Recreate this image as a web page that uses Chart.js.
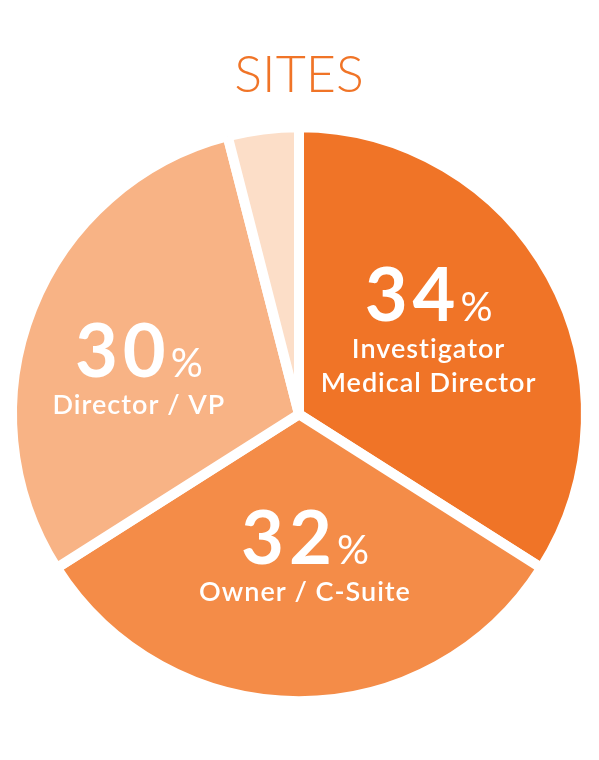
<!DOCTYPE html>
<html>
<head>
<meta charset="utf-8">
<script src="https://cdn.jsdelivr.net/npm/chart.js@4"></script>
<style>
  html, body { margin: 0; padding: 0; background: #fff; }
  #wrap { width: 599px; height: 760px; }
</style>
</head>
<body>
<div id="wrap"><canvas id="chart"></canvas></div>
<script>
// data
const chartTitle = 'SITES';
const categories = [['Investigator', 'Medical Director'], ['Owner / C-Suite'], ['Director / VP'], ['']];
const shares = [34, 32, 30, 4];
const sliceColors = ['#F07427', '#F48C48', '#F8B385', '#FCDEC8'];

// writes "34%" plus the role lines inside each big slice
const sliceLabels = {
    id: 'sliceLabels',
    afterDatasetsDraw(chart, args, opts) {
        const ctx = chart.ctx;
        const meta = chart.getDatasetMeta(0);
        meta.data.forEach(function (arc, i) {
            if (shares[i] < 10) return;
            const p = arc.getProps(['x', 'y', 'startAngle', 'endAngle', 'outerRadius'], true);
            const mid = (p.startAngle + p.endAngle) / 2;
            const r = p.outerRadius * opts.radial;
            const nudge = opts.nudge[i] || [0, 0];
            // ax = centre of the text, y0 = baseline of the big number
            const ax = p.x + Math.cos(mid) * r + nudge[0];
            const y0 = p.y + Math.sin(mid) * r + nudge[1];
            const lines = categories[i];

            ctx.save();
            ctx.fillStyle = '#fff';
            ctx.textBaseline = 'alphabetic';
            ctx.textAlign = 'left';
            const numFont = 'bold 74px Lato';
            const pctFont = '400 40px Lato';
            ctx.font = numFont;
            ctx.letterSpacing = '5px';
            const wNum = ctx.measureText(String(shares[i])).width;
            ctx.letterSpacing = '0px';
            ctx.font = pctFont;
            const wPct = ctx.measureText('%').width;
            const x = ax - (wNum + wPct) / 2;
            ctx.font = numFont;
            ctx.letterSpacing = '5px';
            ctx.fillText(String(shares[i]), x, y0);
            ctx.letterSpacing = '0px';
            ctx.font = pctFont;
            ctx.fillText('%', x + wNum, y0);

            ctx.textAlign = 'center';
            ctx.font = '600 27px Lato';
            ctx.letterSpacing = '1px';
            lines.forEach(function (t, k) {
                ctx.fillText(t, ax, y0 + 37 + k * 34);
            });
            ctx.restore();
        });
    }
};

new Chart(document.getElementById('chart'), {
    type: 'pie',
    data: {
        labels: categories.map(c => c.join(' ')),
        datasets: [{
            data: shares,
            backgroundColor: sliceColors,
            borderColor: '#fff',
            borderWidth: 10,
            hoverOffset: 0
        }]
    },
    options: {
        responsive: true,
        maintainAspectRatio: false,
        animation: false,
        radius: 287,
        layout: { padding: { top: 0, left: 0, right: 1, bottom: 48 } },
        plugins: {
            legend: { display: false },
            tooltip: { enabled: false },
            title: {
                display: true,
                text: chartTitle,
                color: '#F07427',
                font: { family: 'Lato', size: 52, weight: '300' },
                padding: { top: 44, bottom: 10 }
            },
            sliceLabels: {
                radial: 0.555,
                nudge: [[-10, -16], [6, -9], [-12, 21]]
            }
        }
    },
    plugins: [sliceLabels]
});
</script>
</body>
</html>
